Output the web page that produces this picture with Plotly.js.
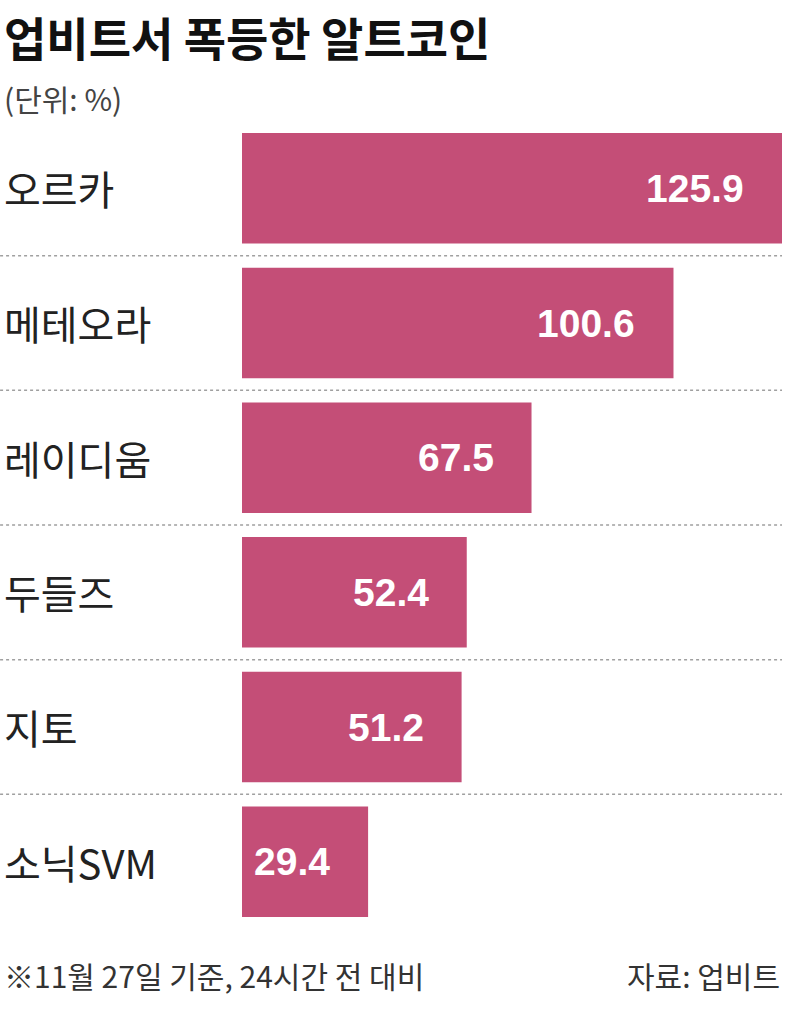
<!DOCTYPE html>
<html><head><meta charset="utf-8">
<script src="https://cdn.plot.ly/plotly-3.0.1.min.js"></script>
<style>html,body{margin:0;padding:0;background:#fff;}#chart{width:800px;height:1013px;}</style>
</head><body><div id="chart"></div>
<script>
const categories = ["오르카", "메테오라", "레이디움", "두들즈", "지토", "소닉SVM"];
const values = [125.9, 100.6, 67.5, 52.4, 51.2, 29.4];
const valueLabels = ["125.9", "100.6", "67.5", "52.4", "51.2", "29.4"];
const titleText = "업비트서 폭등한 알트코인";
const unitText = "(단위: %)";
const noteText = "※11월 27일 기준, 24시간 전 대비";
const sourceText = "자료: 업비트";

const KR = "'Noto Sans CJK KR', 'Noto Sans', sans-serif";
const BAR = "#c44e77";
const LX = -0.445;

const trace = {
  type: "bar", orientation: "h",
  x: values, y: categories,
  marker: {color: BAR, line: {width: 0}},
  hoverinfo: "skip", textposition: "none"
};

const annotations = [];
categories.forEach((c, i) => {
  annotations.push({xref: "paper", x: LX, yref: "y", y: c, xanchor: "left", yanchor: "middle",
    text: c, showarrow: false, font: {family: KR, size: 40, color: "#222"}});
  annotations.push({xref: "x", x: values[i], yref: "y", y: c, xanchor: "right", yanchor: "middle",
    xshift: -36, text: "<b>" + valueLabels[i] + "</b>", showarrow: false,
    font: {family: "'Liberation Sans', Arial, sans-serif", size: 39, color: "#fff"}});
});
annotations.push({xref: "paper", yref: "paper", x: LX, y: 1.105, xanchor: "left", yanchor: "middle",
  text: "<b>" + titleText + "</b>", showarrow: false, font: {family: KR, size: 46, color: "#111"}});
annotations.push({xref: "paper", yref: "paper", x: LX, y: 1.029, xanchor: "left", yanchor: "middle",
  text: unitText, showarrow: false, font: {family: KR, size: 30, color: "#444"}});
annotations.push({xref: "paper", yref: "paper", x: LX, y: -0.057, xanchor: "left", yanchor: "middle",
  text: noteText, showarrow: false, font: {family: KR, size: 30, color: "#333"}});
annotations.push({xref: "paper", yref: "paper", x: 1.0, y: -0.057, xanchor: "right", yanchor: "middle",
  text: sourceText, showarrow: false, font: {family: KR, size: 30, color: "#333"}});

const shapes = [];
for (let i = 0; i < categories.length - 1; i++) {
  shapes.push({type: "line", xref: "paper", yref: "y", x0: -0.448, x1: 1.0, y0: i + 0.5, y1: i + 0.5,
    line: {color: "#a0a0a0", width: 1.5, dash: "dot"}, layer: "below"});
}

const layout = {
  width: 800, height: 1013,
  margin: {l: 242, r: 18, t: 121, b: 84},
  paper_bgcolor: "#fff", plot_bgcolor: "#fff",
  showlegend: false, bargap: 0.18,
  xaxis: {range: [0, 125.9], visible: false, fixedrange: true},
  yaxis: {type: "category", autorange: "reversed", showticklabels: false, showgrid: false,
    zeroline: false, showline: false, ticks: "", fixedrange: true},
  annotations: annotations, shapes: shapes
};
Plotly.newPlot("chart", [trace], layout, {displayModeBar: false, staticPlot: true});
</script></body></html>
